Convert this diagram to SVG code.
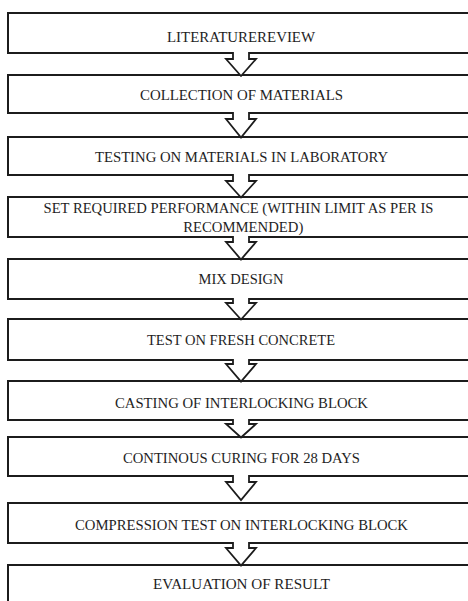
<svg xmlns="http://www.w3.org/2000/svg" width="468" height="601" viewBox="0 0 468 601">
<style>
.box{fill:#fff;stroke:#1c1c1c;stroke-width:2}
.arr{fill:#fff;stroke:#1c1c1c;stroke-width:1.8;stroke-linejoin:miter}
.t{font-family:'Liberation Serif','DejaVu Serif','Times New Roman',serif;font-size:14px;fill:#1e1e1e;text-anchor:middle}
</style>
<rect x="0" y="0" width="468" height="601" fill="#fff"/>
<g id="n1"><rect class="box" x="8" y="13" width="466" height="40"/><text class="t" font-family="Liberation Serif, DejaVu Serif, serif" x="241" y="42" textLength="148" lengthAdjust="spacingAndGlyphs">LITERATUREREVIEW</text></g>
<g id="n2"><rect class="box" x="8" y="75" width="466" height="38"/><text class="t" font-family="Liberation Serif, DejaVu Serif, serif" x="241.5" y="100" textLength="203" lengthAdjust="spacingAndGlyphs">COLLECTION OF MATERIALS</text></g>
<g id="n3"><rect class="box" x="8" y="137" width="466" height="38"/><text class="t" font-family="Liberation Serif, DejaVu Serif, serif" x="241.5" y="161.5" textLength="293" lengthAdjust="spacingAndGlyphs">TESTING ON MATERIALS IN LABORATORY</text></g>
<g id="n4"><rect class="box" x="8" y="197" width="466" height="40"/><text class="t" font-family="Liberation Serif, DejaVu Serif, serif" x="238.5" y="213" textLength="390" lengthAdjust="spacingAndGlyphs">SET REQUIRED PERFORMANCE (WITHIN LIMIT AS PER IS</text><text class="t" font-family="Liberation Serif, DejaVu Serif, serif" x="243.3" y="231.5" textLength="120" lengthAdjust="spacingAndGlyphs">RECOMMENDED)</text></g>
<g id="n5"><rect class="box" x="8" y="259" width="466" height="40"/><text class="t" font-family="Liberation Serif, DejaVu Serif, serif" x="241" y="284" textLength="85" lengthAdjust="spacingAndGlyphs">MIX DESIGN</text></g>
<g id="n6"><rect class="box" x="8" y="319" width="466" height="41"/><text class="t" font-family="Liberation Serif, DejaVu Serif, serif" x="241" y="345" textLength="188" lengthAdjust="spacingAndGlyphs">TEST ON FRESH CONCRETE</text></g>
<g id="n7"><rect class="box" x="8" y="381" width="466" height="39"/><text class="t" font-family="Liberation Serif, DejaVu Serif, serif" x="241.5" y="408" textLength="253" lengthAdjust="spacingAndGlyphs">CASTING OF INTERLOCKING BLOCK</text></g>
<g id="n8"><rect class="box" x="8" y="437" width="466" height="39"/><text class="t" font-family="Liberation Serif, DejaVu Serif, serif" x="241.5" y="462.5" textLength="237" lengthAdjust="spacingAndGlyphs">CONTINOUS CURING FOR 28 DAYS</text></g>
<g id="n9"><rect class="box" x="8" y="503" width="466" height="40"/><text class="t" font-family="Liberation Serif, DejaVu Serif, serif" x="241.5" y="530" textLength="333" lengthAdjust="spacingAndGlyphs">COMPRESSION TEST ON INTERLOCKING BLOCK</text></g>
<g id="n10"><rect class="box" x="8" y="565" width="466" height="60"/><text class="t" font-family="Liberation Serif, DejaVu Serif, serif" x="241.5" y="589" textLength="177" lengthAdjust="spacingAndGlyphs">EVALUATION OF RESULT</text></g>
<g id="connectors">
<path class="arr" d="M233,52 V59 H226 L241,76 L256,59 H249 V52"/>
<path class="arr" d="M233,112 V119 H226 L241,137.5 L256,119 H249 V112"/>
<path class="arr" d="M233,174 V181 H226 L241,197.5 L256,181 H249 V174"/>
<path class="arr" d="M233,236 V242 H226 L241,259.5 L256,242 H249 V236"/>
<path class="arr" d="M233,298 V303 H226 L241,319.5 L256,303 H249 V298"/>
<path class="arr" d="M233,359 V364 H226 L241,381.5 L256,364 H249 V359"/>
<path class="arr" d="M233,419 V424 H226 L241,437.5 L256,424 H249 V419"/>
<path class="arr" d="M233,475 V482 H226 L241,500 L256,482 H249 V475"/>
<path class="arr" d="M233,542 V548 H226 L241,565.5 L256,548 H249 V542"/>
</g>
</svg>
